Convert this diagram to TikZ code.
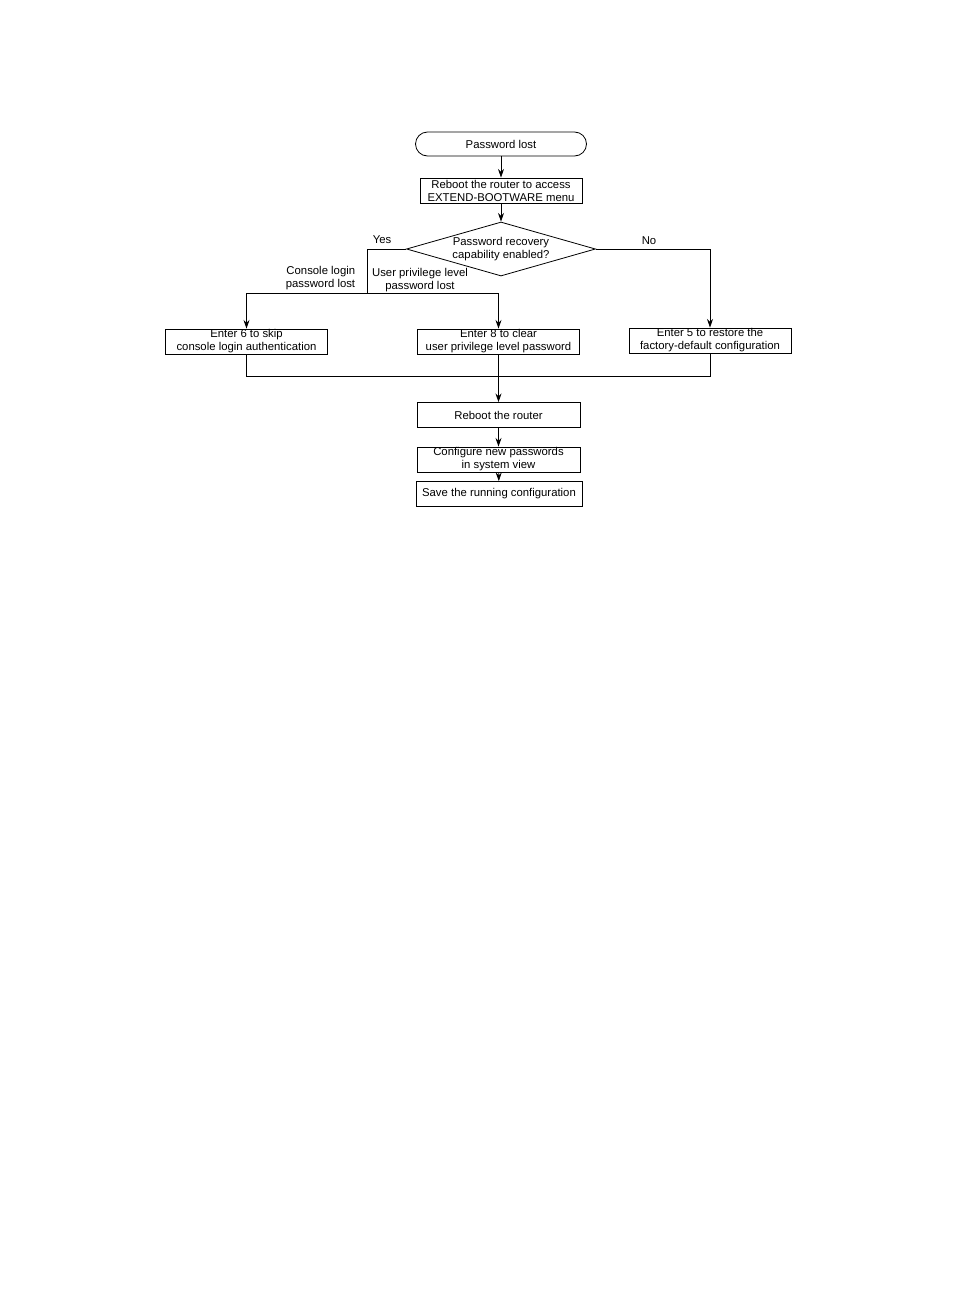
\documentclass[tikz,border=0pt]{standalone}
\usepackage{fontspec}
\setmainfont{Liberation Sans}
\usetikzlibrary{shapes.geometric,arrows.meta}

\begin{document}
\begin{tikzpicture}[x=0.75pt,y=-0.75pt,
  line width=0.6pt, >={Stealth[length=6.5pt,width=4.5pt]},
  every node/.style={font=\fontsize{8.5}{9.75}\selectfont, align=center},
  stepbox/.style={draw, minimum width=121.5pt, minimum height=18.75pt, inner xsep=2pt, inner ysep=0pt},
  terminal/.style={draw, rounded corners=9pt, minimum width=128.25pt, minimum height=18pt},
  decision/.style={draw, diamond, aspect=3.5, inner sep=0pt, minimum width=141.75pt, minimum height=40.5pt}]
\useasboundingbox (0,0) rectangle (954,1296);
% flow boxes
\node[terminal] (lost) at (501,144) {Password lost};
\node[stepbox] (reboot) at (501,190.5) {Reboot the router to access\\EXTEND-BOOTWARE menu};
\node[decision] (recovery) at (501,249) {Password recovery\\capability enabled?};
\node[stepbox] (skip) at (246.5,341.5) {Enter 6 to skip\\console login authentication};
\node[stepbox] (clear) at (498.5,341.5) {Enter 8 to clear\\user privilege level password};
\node[stepbox] (restore) at (710,340.5) {Enter 5 to restore the\\factory-default configuration};
\node[stepbox, minimum width=122.25pt] (restart) at (498.5,415) {Reboot the router};
\node[stepbox, minimum width=122.25pt] (newpw) at (498.5,459.5) {Configure new passwords\\in system view};
\node[stepbox, minimum width=124.5pt] (save) at (499,494) {Save the running configuration};
% branch points
\coordinate (split) at (367,293);
\coordinate (join) at (498.5,376);
% labels
\node (yes) at (382,240) {Yes};
\node (no) at (649,241) {No};
\node[anchor=east, align=right] (consolelbl) at (360,278) {Console login\\password lost};
\node (userlbl) at (420,280) {User privilege level\\password lost};
% connectors
\draw[->] (lost) -- (reboot);
\draw[->] (reboot) -- (recovery);
\draw (recovery.west) -| (split);
\draw[->] (split) -| (skip.north);
\draw[->] (split) -| (clear.north);
\draw[->] (recovery.east) -| (restore.north);
\draw (skip.south) |- (join);
\draw (restore.south) |- (join);
\draw[->] (clear.south) -- (restart.north);
\draw[->] (restart) -- (newpw);
\draw[->] (newpw) -- (save);
\end{tikzpicture}
\end{document}
